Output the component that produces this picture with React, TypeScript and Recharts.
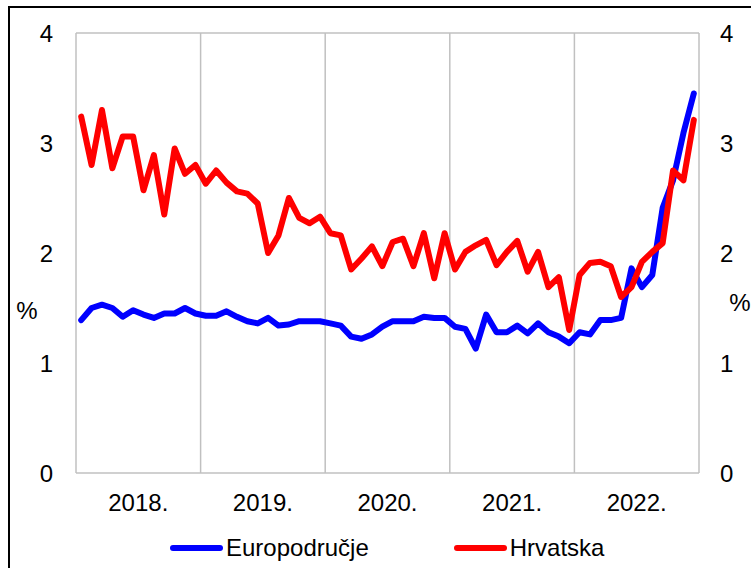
import React from "react";
import { LineChart, Line, XAxis, YAxis, CartesianGrid, Legend } from "recharts";

const FONT = "Arial, 'Liberation Sans', sans-serif";

// monthly values, Jan 2018 – Dec 2022
const years = ["2018.", "2019.", "2020.", "2021.", "2022."];

const euroArea = [
  1.39, 1.5, 1.53, 1.5, 1.42, 1.48, 1.44, 1.41, 1.45, 1.45, 1.5, 1.45,
  1.43, 1.43, 1.47, 1.42, 1.38, 1.36, 1.41, 1.34, 1.35, 1.38, 1.38, 1.38,
  1.36, 1.34, 1.24, 1.22, 1.26, 1.33, 1.38, 1.38, 1.38, 1.42, 1.41, 1.41,
  1.33, 1.31, 1.13, 1.44, 1.28, 1.28, 1.34, 1.27, 1.36, 1.28, 1.24, 1.18,
  1.28, 1.26, 1.39, 1.39, 1.41, 1.86, 1.69, 1.8, 2.41, 2.66, 3.09, 3.45,
];

const croatia = [
  3.24, 2.8, 3.3, 2.77, 3.06, 3.06, 2.57, 2.89, 2.35, 2.95, 2.72, 2.8,
  2.63, 2.75, 2.64, 2.56, 2.54, 2.45, 2.0, 2.16, 2.5, 2.32, 2.27, 2.33,
  2.18, 2.16, 1.85, 1.95, 2.06, 1.88, 2.1, 2.13, 1.88, 2.18, 1.77, 2.18,
  1.85, 2.01, 2.07, 2.12, 1.89, 2.01, 2.11, 1.83, 2.01, 1.69, 1.78, 1.3,
  1.8, 1.91, 1.92, 1.88, 1.6, 1.69, 1.92, 2.01, 2.09, 2.75, 2.66, 3.21,
];

const yTicks = [0, 1, 2, 3, 4];
const yearTicks = [6, 18, 30, 42, 54];
const yearEdges = [0, 12, 24, 36, 48, 60];

const legendItems = [
  { label: "Europodručje", color: "#0000ff" },
  { label: "Hrvatska", color: "#ff0000" },
];

const data = euroArea.map((v, i) => ({ month: i + 0.5, euro: v, hr: croatia[i] }));

const LegendContent = () => (
  <div
    style={{
      display: "flex",
      alignItems: "center",
      height: 30,
      paddingLeft: 170,
      gap: 85,
      fontSize: 24,
      fontFamily: FONT,
      color: "#000",
    }}
  >
    {legendItems.map((it) => (
      <div key={it.label} style={{ display: "flex", alignItems: "center" }}>
        <svg width={53} height={10}>
          <line x1={3} y1={5} x2={50} y2={5} stroke={it.color} strokeWidth={6} strokeLinecap="round" />
        </svg>
        <span style={{ marginLeft: 3 }}>{it.label}</span>
      </div>
    ))}
  </div>
);

const gridX = ({ xAxis, offset }: any) =>
  yearEdges.map((v) =>
    xAxis && typeof xAxis.scale === "function"
      ? xAxis.scale(v)
      : offset.left + (v / 60) * offset.width
  );

export default function App() {
  return (
    <div style={{ position: "relative", width: 751, height: 568, overflow: "hidden", background: "#fff" }}>
      <style>{`body{margin:0}`}</style>
      <div
        style={{
          position: "absolute",
          left: 8,
          top: 6,
          width: 800,
          height: 700,
          border: "2px solid #000",
        }}
      />
      <LineChart
        width={751}
        height={568}
        data={data}
        margin={{ top: 33, right: 0, left: 0, bottom: 5 }}
        style={{ fontFamily: FONT, position: "absolute", left: 0, top: 0 }}
      >
        <CartesianGrid
          stroke="#c0c0c0"
          strokeWidth={1.5}
          verticalCoordinatesGenerator={gridX}
        />
        <XAxis
          dataKey="month"
          type="number"
          domain={[0, 60]}
          ticks={yearTicks}
          tickFormatter={(v: number) => years[Math.floor(v / 12)]}
          axisLine={false}
          tickLine={false}
          tickSize={0}
          tickMargin={21}
          height={60}
          tick={{ fontSize: 24, fill: "#000" }}
          interval={0}
        />
        <YAxis
          yAxisId="left"
          domain={[0, 4]}
          ticks={yTicks}
          width={76}
          axisLine={false}
          tickLine={false}
          tickSize={0}
          tickMargin={23}
          tick={{ fontSize: 24, fill: "#000" }}
          label={{
            content: () => (
              <text x={27} y={310} textAnchor="middle" dominantBaseline="central" fontSize={24} fill="#000">
                %
              </text>
            ),
          }}
        />
        <YAxis
          yAxisId="right"
          orientation="right"
          domain={[0, 4]}
          ticks={yTicks}
          width={52}
          axisLine={false}
          tickLine={false}
          tickSize={0}
          tickMargin={21}
          tick={{ fontSize: 24, fill: "#000" }}
          label={{
            content: () => (
              <text x={740} y={302} textAnchor="middle" dominantBaseline="central" fontSize={24} fill="#000">
                %
              </text>
            ),
          }}
        />
        <Legend verticalAlign="bottom" height={30} content={<LegendContent />} />
        <Line
          yAxisId="left"
          dataKey="euro"
          name="Europodručje"
          stroke="#0000ff"
          strokeWidth={6}
          strokeLinejoin="round"
          strokeLinecap="round"
          dot={false}
          activeDot={false}
          isAnimationActive={false}
        />
        <Line
          yAxisId="right"
          dataKey="hr"
          name="Hrvatska"
          stroke="#ff0000"
          strokeWidth={6}
          strokeLinejoin="round"
          strokeLinecap="round"
          dot={false}
          activeDot={false}
          isAnimationActive={false}
        />
      </LineChart>
    </div>
  );
}
